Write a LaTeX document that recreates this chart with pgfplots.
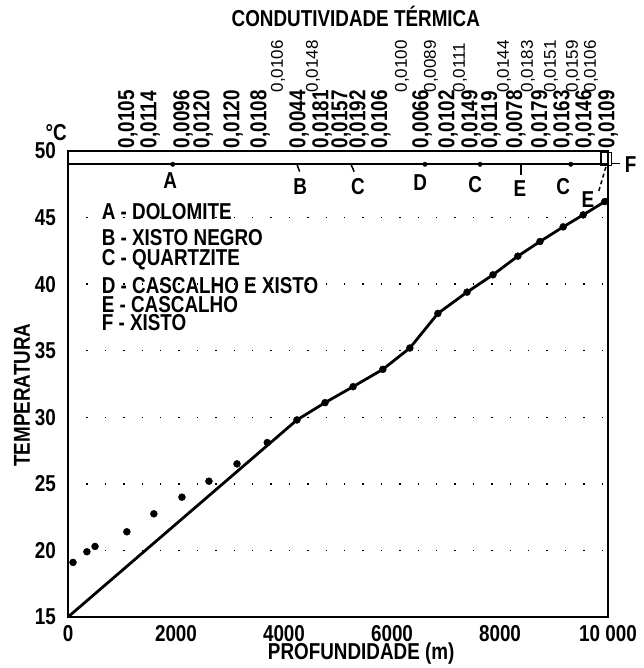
\documentclass[border=0pt]{standalone}
\usepackage{fontspec}
\setmainfont{Liberation Sans}[FakeStretch=0.82]
\newfontfamily\thinfont{Liberation Sans}
\usepackage{pgfplots}
\usepackage{pgfplotstable}
\pgfplotsset{compat=1.18}

\newcommand\lab{\bfseries\fontsize{23}{25}\selectfont}
\newcommand\uplab{\thinfont\fontsize{17}{17}\selectfont}

% measured temperatures (dots)
\pgfplotstableread{
x y
93 19.1
350 19.9
500 20.3
1090 21.4
1590 22.75
2110 24.0
2610 25.2
3130 26.5
3690 28.1
4240 29.8
4760 31.1
5280 32.3
5830 33.6
6330 35.2
6850 37.8
7390 39.4
7870 40.7
8330 42.1
8740 43.2
9170 44.3
9540 45.2
9940 46.2
}\meas

% computed profile (line)
\pgfplotstableread{
x y
0 15.0
4240 29.8
4760 31.1
5280 32.3
5830 33.6
6330 35.2
6850 37.8
7390 39.4
7870 40.7
8330 42.1
8740 43.2
9170 44.3
9540 45.2
9940 46.2
10000 46.4
}\calc

% thermal conductivity, lower row
\pgfplotstableread{
x y lab
1111 50.2 0,0105
1519 50.2 0,0114
2130 50.2 0,0096
2500 50.2 0,0120
3056 50.2 0,0120
3556 50.2 0,0108
4278 50.2 0,0044
4704 50.2 0,0181
5056 50.2 0,0157
5389 50.2 0,0192
5796 50.2 0,0106
6556 50.2 0,0066
7037 50.2 0,0102
7463 50.2 0,0149
7833 50.2 0,0119
8296 50.2 0,0078
8759 50.2 0,0179
9167 50.2 0,0163
9574 50.2 0,0146
10000 50.2 0,0109
}\condlow

% thermal conductivity, upper row
\pgfplotstableread{
x y lab
3889 54.4 0,0106
4537 54.4 0,0148
6185 54.4 0,0100
6722 54.4 0,0089
7259 54.4 0,0111
8074 54.4 0,0144
8519 54.4 0,0183
8944 54.4 0,0151
9352 54.4 0,0159
9685 54.4 0,0106
}\condup

\begin{document}
\begin{tikzpicture}
\begin{axis}[
  scale only axis,
  width=540pt, height=466pt,
  xmin=0, xmax=10000, ymin=15, ymax=50,
  axis line style={line width=2.2pt},
  major tick length=0pt,
  scaled x ticks=false,
  xtick={0,2000,4000,6000,8000,10000},
  xticklabels={0,2000,4000,6000,8000,10 000},
  ytick={15,20,...,50},
  ticklabel style={font=\lab, inner sep=1pt},
  xticklabel style={yshift=-7pt},
  yticklabel style={xshift=-11pt},
  /pgf/number format/assume math mode=true,
  ymajorgrids,
  grid style={black, line width=1.4pt, dash pattern=on 1.4pt off 17pt},
  clip=false,
]
\addplot[black, line width=2.8pt] table {\calc};
\addplot[only marks, mark=*, mark size=3.5pt, black] table {\meas};

% lithology strip
\addplot[black, line width=1.8pt] coordinates {(0,49)(10000,49)};
\addplot[only marks, mark=*, mark size=2.2pt, black] coordinates {(1940,49)(6610,49)(7630,49)(9310,49)};
\addplot[black, line width=1.5pt] coordinates {(4240,49)(4290,48.45)};
\addplot[black, line width=1.5pt] coordinates {(5240,49)(5300,48.45)};
\addplot[black, line width=1.5pt] coordinates {(8390,49)(8390,48.2)};
\addplot[black, line width=1.2pt] coordinates {(9870,48.9)(10070,48.9)(10070,49.9)(9870,49.9)(9870,48.9)};
\addplot[black, line width=1.4pt] coordinates {(10070,49.05)(10230,49.05)};
\addplot[black, line width=1.5pt, dash pattern=on 4pt off 3pt] coordinates {(9960,48.8)(9830,47.0)};

% conductivity labels
\addplot[draw=none, mark=none, nodes near coords, point meta=explicit symbolic,
  every node near coord/.append style={rotate=90, anchor=west, inner sep=0pt, font=\lab}]
  table[meta=lab] {\condlow};
\addplot[draw=none, mark=none, nodes near coords, point meta=explicit symbolic,
  every node near coord/.append style={rotate=90, anchor=west, inner sep=0pt, font=\uplab}]
  table[meta=lab] {\condup};

% strip letters
\node[font=\lab] at (axis cs:1890,47.8) {A};
\node[font=\lab] at (axis cs:4300,47.3) {B};
\node[font=\lab] at (axis cs:5370,47.35) {C};
\node[font=\lab] at (axis cs:6520,47.6) {D};
\node[font=\lab] at (axis cs:7540,47.5) {C};
\node[font=\lab] at (axis cs:8370,47.2) {E};
\node[font=\lab] at (axis cs:9170,47.35) {C};
\node[font=\lab] at (axis cs:9630,46.35) {E};
\node[font=\lab] at (axis cs:10420,49.0) {F};

% key
\node[anchor=west, font=\lab] at (rel axis cs:0.056,0.869) {A - DOLOMITE};
\node[anchor=west, font=\lab] at (rel axis cs:0.056,0.815) {B - XISTO NEGRO};
\node[anchor=west, font=\lab] at (rel axis cs:0.056,0.766) {C - QUARTZITE};
\node[anchor=west, font=\lab] at (rel axis cs:0.056,0.712) {D - CASCALHO E XISTO};
\node[anchor=west, font=\lab] at (rel axis cs:0.056,0.670) {E - CASCALHO};
\node[anchor=west, font=\lab] at (rel axis cs:0.056,0.631) {F - XISTO};

% titles
\node[font=\lab] at (rel axis cs:-0.022,1.04) {°C};
\node[font=\lab] at (rel axis cs:0.533,1.288) {CONDUTIVIDADE TÉRMICA};
\node[font=\lab, rotate=90] at (rel axis cs:-0.085,0.476) {TEMPERATURA};
\node[font=\lab] at (rel axis cs:0.543,-0.078) {PROFUNDIDADE (m)};
\end{axis}
\pgfresetboundingbox
\path[use as bounding box] ([shift={(-68pt,-51pt)}]current axis.south west)
  rectangle ([shift={(575pt,617pt)}]current axis.south west);
\end{tikzpicture}
\end{document}
